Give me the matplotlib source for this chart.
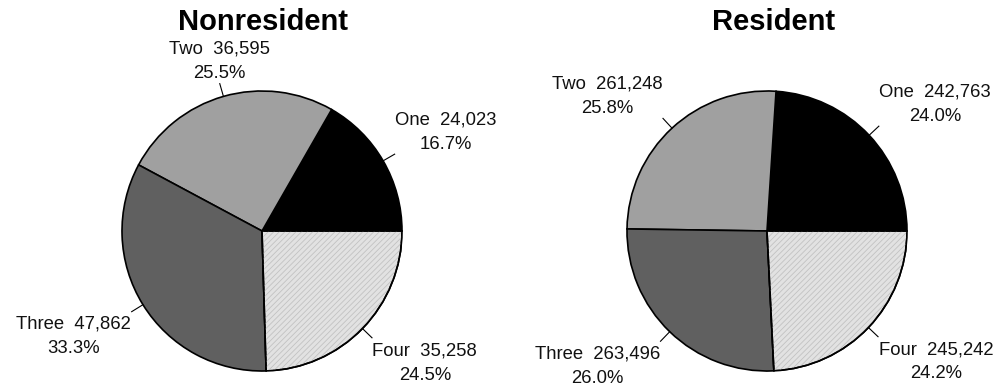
import numpy as np
import matplotlib
matplotlib.use("Agg")
import matplotlib.pyplot as plt
from matplotlib.patches import Wedge

plt.rcParams["font.family"] = ["Liberation Sans", "DejaVu Sans"]
plt.rcParams["hatch.linewidth"] = 0.6

categories = ["One", "Two", "Three", "Four"]
nonresident = [24023, 36595, 47862, 35258]
resident = [242763, 261248, 263496, 245242]
titles = ["Nonresident", "Resident"]

colors = ["#000000", "#a0a0a0", "#606060", "#e2e2e2"]

W, H = 994, 386
fig = plt.figure(figsize=(W / 100, H / 100), dpi=100)

# pie boxes in pixels: (center x, center y from top, radius)
boxes = [(262, 231, 140), (767, 231, 140)]
title_x = [263, 774]


def draw_pie(ax, values, title):
    wedges, _ = ax.pie(values, colors=colors, startangle=0, counterclock=True,
                       radius=1.0,
                       wedgeprops=dict(edgecolor="black", linewidth=1.2))
    # hatched fill for the last slice
    w = wedges[3]
    ax.add_patch(Wedge((0, 0), 1.0, w.theta1, w.theta2, facecolor="none",
                       edgecolor="#c2c2c2", hatch="//////", linewidth=0,
                       zorder=w.get_zorder() + 0.1))
    ax.add_patch(Wedge((0, 0), 1.0, w.theta1, w.theta2, fill=False,
                       edgecolor="black", linewidth=1.2,
                       zorder=w.get_zorder() + 0.2))
    total = sum(values)
    for wd, name, v in zip(wedges, categories, values):
        mid = np.deg2rad((wd.theta1 + wd.theta2) / 2)
        c, s = np.cos(mid), np.sin(mid)
        ax.plot([c, 1.095 * c], [s, 1.095 * s], color="black", lw=0.8,
                clip_on=False)
        ha = "left" if c > 0.3 else ("right" if c < -0.3 else "center")
        va = "bottom" if s > 0 else "top"
        ex = 1.10 * c
        ey = 1.11 * s if s > 0 else 1.125 * s - 0.012
        ax.text(ex, ey, f"{name}  {v:,}\n{100 * v / total:.1f}%",
                ha=ha, va=va, multialignment="center", fontsize=13.3,
                linespacing=1.55, color="#111111", clip_on=False)
    ax.set_xlim(-1, 1)
    ax.set_ylim(-1, 1)
    ax.set_aspect("equal")
    ax.axis("off")


for (cx, cy, r), vals, t, tx in zip(boxes, [nonresident, resident], titles, title_x):
    ax = fig.add_axes([(cx - r) / W, (H - cy - r) / H, 2 * r / W, 2 * r / H])
    draw_pie(ax, vals, t)
    fig.text(tx / W, 1 - 22 / H, t, ha="center", va="center",
             fontsize=21, fontweight="bold")

fig.savefig("out.png", dpi=100)
